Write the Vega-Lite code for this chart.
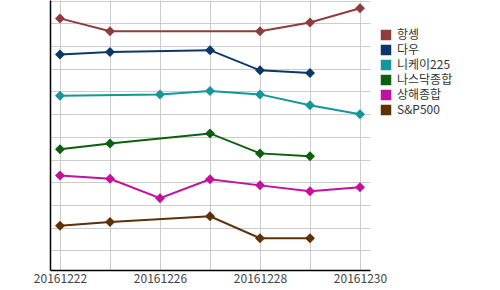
{
  "$schema": "https://vega.github.io/schema/vega-lite/v6.json",
  "width": 320,
  "height": 270,
  "autosize": {"type": "none"},
  "padding": {"left": 50, "top": 0, "right": 130, "bottom": 20},
  "background": "white",
  "config": {
    "view": {"stroke": null},
    "font": "Noto Sans CJK KR"
  },
  "data": {
    "values": [
      {"date": "20161222", "index": "항셍", "v": 10.22},
      {"date": "20161223", "index": "항셍", "v": 9.65},
      {"date": "20161228", "index": "항셍", "v": 9.65},
      {"date": "20161229", "index": "항셍", "v": 10.04},
      {"date": "20161230", "index": "항셍", "v": 10.67},
      {"date": "20161222", "index": "다우", "v": 8.63},
      {"date": "20161223", "index": "다우", "v": 8.74},
      {"date": "20161227", "index": "다우", "v": 8.82},
      {"date": "20161228", "index": "다우", "v": 7.93},
      {"date": "20161229", "index": "다우", "v": 7.81},
      {"date": "20161222", "index": "니케이225", "v": 6.81},
      {"date": "20161226", "index": "니케이225", "v": 6.87},
      {"date": "20161227", "index": "니케이225", "v": 7.02},
      {"date": "20161228", "index": "니케이225", "v": 6.87},
      {"date": "20161229", "index": "니케이225", "v": 6.39},
      {"date": "20161230", "index": "니케이225", "v": 5.99},
      {"date": "20161222", "index": "나스닥종합", "v": 4.45},
      {"date": "20161223", "index": "나스닥종합", "v": 4.71},
      {"date": "20161227", "index": "나스닥종합", "v": 5.15},
      {"date": "20161228", "index": "나스닥종합", "v": 4.27},
      {"date": "20161229", "index": "나스닥종합", "v": 4.14},
      {"date": "20161222", "index": "상해종합", "v": 3.30},
      {"date": "20161223", "index": "상해종합", "v": 3.15},
      {"date": "20161226", "index": "상해종합", "v": 2.29},
      {"date": "20161227", "index": "상해종합", "v": 3.13},
      {"date": "20161228", "index": "상해종합", "v": 2.86},
      {"date": "20161229", "index": "상해종합", "v": 2.60},
      {"date": "20161230", "index": "상해종합", "v": 2.78},
      {"date": "20161222", "index": "S&P500", "v": 1.08},
      {"date": "20161223", "index": "S&P500", "v": 1.25},
      {"date": "20161227", "index": "S&P500", "v": 1.50},
      {"date": "20161228", "index": "S&P500", "v": 0.53},
      {"date": "20161229", "index": "S&P500", "v": 0.53}
    ]
  },
  "mark": {
    "type": "line",
    "strokeWidth": 2,
    "point": {"shape": "diamond", "size": 100, "filled": true, "opacity": 1}
  },
  "encoding": {
    "x": {
      "field": "date",
      "type": "ordinal",
      "sort": ["20161222", "20161223", "20161226", "20161227", "20161228", "20161229", "20161230"],
      "scale": {"type": "point", "padding": 0.2},
      "axis": {
        "title": null,
        "grid": true,
        "gridColor": "#cccccc",
        "gridWidth": 1,
        "domainColor": "#000000",
        "domainWidth": 1.5,
        "ticks": false,
        "labelAngle": 0,
        "labelPadding": 3,
        "labelFontSize": 12,
        "labelColor": "#444444",
        "labelOverlap": false,
        "labelExpr": "indexof(['20161222','20161226','20161228','20161230'], datum.value) >= 0 ? datum.value : ''"
      }
    },
    "y": {
      "field": "v",
      "type": "quantitative",
      "scale": {"domain": [-0.87, 11.03], "nice": false, "zero": false},
      "axis": {
        "title": null,
        "values": [0, 1, 2, 3, 4, 5, 6, 7, 8, 9, 10, 11],
        "labels": false,
        "ticks": false,
        "grid": true,
        "gridColor": "#cccccc",
        "gridWidth": 1,
        "domainColor": "#000000",
        "domainWidth": 1.5
      }
    },
    "color": {
      "field": "index",
      "type": "nominal",
      "sort": ["항셍", "다우", "니케이225", "나스닥종합", "상해종합", "S&P500"],
      "scale": {
        "domain": ["항셍", "다우", "니케이225", "나스닥종합", "상해종합", "S&P500"],
        "range": ["#913c3c", "#0c3867", "#14969a", "#0d5e0d", "#c3119d", "#5e3109"]
      },
      "legend": {
        "title": null,
        "orient": "none",
        "legendX": 330,
        "legendY": 29,
        "symbolType": "square",
        "symbolSize": 110,
        "symbolStrokeWidth": 0,
        "labelFontSize": 12,
        "labelColor": "#333333",
        "labelOffset": 5,
        "rowPadding": 3,
        "encode": {
          "symbols": {
            "update": {
              "fill": {"scale": "color", "field": "value"},
              "strokeWidth": {"value": 0},
              "opacity": {"value": 1}
            }
          }
        }
      }
    }
  }
}
